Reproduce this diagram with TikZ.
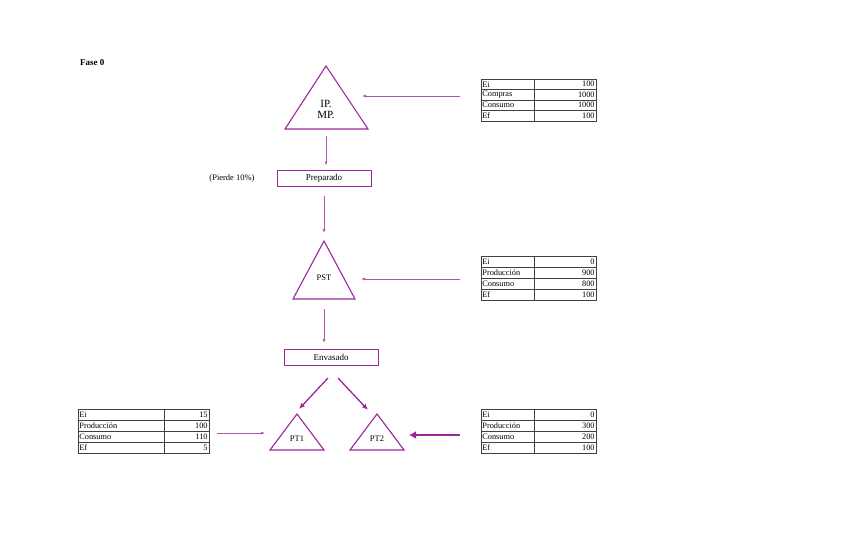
\documentclass[tikz,border=0pt]{standalone}
\usepackage{fontspec}
\setmainfont{Liberation Serif}
\usetikzlibrary{arrows.meta}
\definecolor{fase}{RGB}{155,40,155}

\begin{document}
\begin{tikzpicture}[x=1pt,y=-1pt,>=Latex,
    tri/.style={draw=fase,line width=1.1pt,line join=miter},
    etapa/.style={draw=fase,line width=1pt,minimum width=94pt,minimum height=16pt,inner sep=0pt,font=\fontsize{9}{10}\selectfont},
    txt/.style={inner sep=0pt,font=\fontsize{8.5}{10}\selectfont},
    celda/.style={draw=black!75,line width=0.7pt},
    dato/.style={inner sep=1.2pt,font=\fontsize{8.3}{9}\selectfont},
    flujo/.style={draw=fase!80,line width=0.8pt,-{Latex[length=4pt,width=3pt]}},
    reparto/.style={draw=fase,line width=1.3pt,-{Latex[length=6pt,width=5pt]}},
    entrada/.style={draw=fase,line width=2.5pt,-{Latex[length=7pt,width=8pt]}}]
  \useasboundingbox (0,0) rectangle (848,549);
  \node[anchor=west,inner sep=0pt,font=\bfseries\fontsize{9}{10}\selectfont] (fase0) at (80,63) {Fase 0};

  % almacenes
  \draw[tri] (326,66) -- (368,129) -- (285,129) -- cycle;
  \node[txt,align=center,font=\fontsize{11}{11}\selectfont] (ip) at (326,109) {IP.\\MP.};
  \draw[tri] (324,241) -- (355,299) -- (293,299) -- cycle;
  \node[txt] (pst) at (324,278) {PST};
  \draw[tri] (297,414) -- (324,450) -- (270,450) -- cycle;
  \node[txt] (pt1) at (297,439) {PT1};
  \draw[tri] (377,414) -- (404,450) -- (350,450) -- cycle;
  \node[txt] (pt2) at (377,439) {PT2};

  % procesos
  \node[etapa] (prep) at (324,178) {Preparado};
  \node[txt] (pierde) at (232,178) {(Pierde 10\%)};
  \node[etapa] (env) at (331,357.5) {Envasado};

  % tablas
  \foreach \n/\name/\val in {0/Ei/100,1/Compras/1000,2/Consumo/1000,3/Ef/100}{
    \draw[celda] (481,79+\n*10.5) rectangle (534,89.5+\n*10.5);
    \draw[celda] (534,79+\n*10.5) rectangle (596,89.5+\n*10.5);
    \node[dato,anchor=west] (mp-\n) at (481,84.25+\n*10.5) {\name};
    \node[dato,anchor=east] (mpv-\n) at (596,84.25+\n*10.5) {\val};
  }
  \foreach \n/\name/\val in {0/Ei/0,1/Producción/900,2/Consumo/800,3/Ef/100}{
    \draw[celda] (481,256+\n*11) rectangle (534,267+\n*11);
    \draw[celda] (534,256+\n*11) rectangle (596,267+\n*11);
    \node[dato,anchor=west] (st-\n) at (481,261.5+\n*11) {\name};
    \node[dato,anchor=east] (stv-\n) at (596,261.5+\n*11) {\val};
  }
  \foreach \n/\name/\val in {0/Ei/15,1/Producción/100,2/Consumo/110,3/Ef/5}{
    \draw[celda] (78,409+\n*11) rectangle (164,420+\n*11);
    \draw[celda] (164,409+\n*11) rectangle (209,420+\n*11);
    \node[dato,anchor=west] (uno-\n) at (78,414.5+\n*11) {\name};
    \node[dato,anchor=east] (unov-\n) at (209,414.5+\n*11) {\val};
  }
  \foreach \n/\name/\val in {0/Ei/0,1/Producción/300,2/Consumo/200,3/Ef/100}{
    \draw[celda] (481,409+\n*11) rectangle (534,420+\n*11);
    \draw[celda] (534,409+\n*11) rectangle (596,420+\n*11);
    \node[dato,anchor=west] (dos-\n) at (481,414.5+\n*11) {\name};
    \node[dato,anchor=east] (dosv-\n) at (596,414.5+\n*11) {\val};
  }

  % flechas
  \coordinate (mp-in) at (460,96);
  \coordinate (ip-in) at (362,96);
  \coordinate (ip-out) at (326,136);
  \coordinate (pst-top) at (324,233);
  \coordinate (pst-out) at (324,309);
  \coordinate (st-in) at (460,279);
  \coordinate (pst-in) at (361,279);
  \coordinate (pt1-top) at (299,409);
  \coordinate (pt2-top) at (368,410);
  \coordinate (uno-in) at (217,433);
  \coordinate (pt1-in) at (265,433);
  \coordinate (dos-in) at (460,435);
  \coordinate (pt2-in) at (409,435);
  \draw[flujo] (mp-in) -- (ip-in);
  \draw[flujo] (ip-out) -- ([yshift=4pt]prep.north -| ip-out);
  \draw[flujo] ([yshift=-9pt]prep.south) -- (pst-top);
  \draw[flujo] (st-in) -- (pst-in);
  \draw[flujo] (pst-out) -- ([yshift=6pt]env.north -| pst-out);
  \draw[reparto] ([xshift=-3pt,yshift=-12pt]env.south) -- (pt1-top);
  \draw[reparto] ([xshift=7pt,yshift=-12pt]env.south) -- (pt2-top);
  \draw[flujo] (uno-in) -- (pt1-in);
  \draw[entrada] (dos-in) -- (pt2-in);
\end{tikzpicture}
\end{document}
